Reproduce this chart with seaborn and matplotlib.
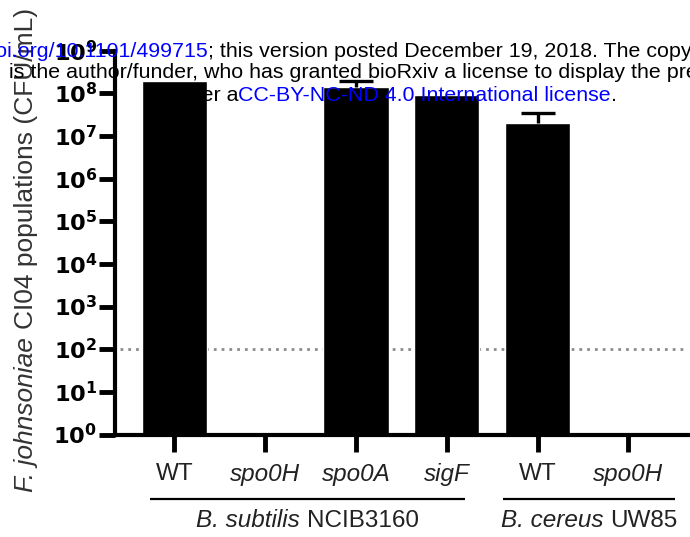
import numpy as np
import pandas as pd
import matplotlib
matplotlib.use("Agg")
import matplotlib.pyplot as plt
import seaborn as sns
from matplotlib.ticker import FixedLocator, NullLocator
from matplotlib.transforms import blended_transform_factory

# ---- data -----------------------------------------------------------------
strains = ["Bs WT", "Bs spo0H", "Bs spo0A", "Bs sigF", "Bc WT", "Bc spo0H"]
tick_labels = ["WT", "spo0H", "spo0A", "sigF", "WT", "spo0H"]
tick_italic = [False, True, True, True, False, True]
cfu_mean = [2.0e8, np.nan, 1.4e8, 9.1e7, 2.05e7, np.nan]   # NaN: below detection
cfu_upper = [np.nan, np.nan, 2.0e8, np.nan, 3.5e7, np.nan]  # mean + SD
detection_limit = 1e2
decades = list(range(0, 10))
group_species = ["B. subtilis", "B. cereus"]
group_strains = ["NCIB3160", "UW85"]
y_label_species = "F. johnsoniae"
y_label_rest = "CI04 populations (CFU/mL)"

header_doi = "https://doi.org/10.1101/499715"
header_line1 = "; this version posted December 19, 2018. The copyright holder for this preprint"
header_line2 = ("is the author/funder, who has granted bioRxiv a license to display "
                "the preprint in perpetuity. It is made available")
header_line3_pre = "under a"
header_license = "CC-BY-NC-ND 4.0 International license"

# ---- style ----------------------------------------------------------------
sns.set_style("ticks")
plt.rcParams["font.family"] = ["Liberation Sans", "DejaVu Sans"]
plt.rcParams["mathtext.fontset"] = "custom"
plt.rcParams["mathtext.rm"] = "Liberation Sans"
plt.rcParams["mathtext.it"] = "Liberation Sans:italic"
plt.rcParams["mathtext.bf"] = "DejaVu Sans:bold"

W, H = 690, 537
fig = plt.figure(figsize=(W / 100, H / 100), dpi=100)
fig.patch.set_facecolor("white")
renderer = fig.canvas.get_renderer()


def text_width(s, **kw):
    t = fig.text(0, 0, s, **kw)
    w = t.get_window_extent(renderer).width
    t.remove()
    return w


def space_width(**kw):
    return text_width("x x", **kw) - text_width("xx", **kw)


ax_left, ax_right, ax_top, ax_bottom = 115.3, 690.0, 50.7, 434.5
ax = fig.add_axes([ax_left / W, 1 - ax_bottom / H,
                   (ax_right - ax_left) / W, (ax_bottom - ax_top) / H])
ax.set_facecolor("white")
ax.set_yscale("log")

df = pd.DataFrame({"strain": strains, "cfu": cfu_mean})
sns.barplot(data=df, x="strain", y="cfu", order=strains, color="black",
            saturation=1, width=0.72, errorbar=None, ax=ax, zorder=2)

# upward-only error bars
idx = np.arange(len(strains))
mean_arr = np.array(cfu_mean)
upper_arr = np.array(cfu_upper)
ok = np.isfinite(mean_arr) & np.isfinite(upper_arr)
eb = ax.errorbar(idx[ok], mean_arr[ok],
                 yerr=[np.zeros(ok.sum()), upper_arr[ok] - mean_arr[ok]],
                 fmt="none", ecolor="black", elinewidth=2.4, capsize=12,
                 capthick=2.4, zorder=3)
eb[1][0].set_visible(False)

# detection limit
ax.axhline(detection_limit, xmin=0.008, xmax=0.988, color="#8c8c8c", lw=2.0,
           linestyle=(0, (1, 1.8)), zorder=0.5)

ax.set_ylim(1, 1e9)
ax.set_xlim(-0.652, 5.68)
ax.yaxis.set_major_locator(FixedLocator([10.0 ** d for d in decades]))
ax.yaxis.set_minor_locator(NullLocator())
ax.set_yticklabels([r"$\mathbf{10^{%d}}$" % d for d in decades])
ax.set_xticks(idx)
ax.set_xticklabels(tick_labels)
for lab, it in zip(ax.get_xticklabels(), tick_italic):
    lab.set_fontstyle("italic" if it else "normal")

for s in ["top", "right"]:
    ax.spines[s].set_visible(False)
for s in ["left", "bottom"]:
    ax.spines[s].set_linewidth(3.0)
    ax.spines[s].set_color("black")

ax.tick_params(axis="y", which="major", length=11.5, width=3.5, pad=1.5,
               labelsize=16.2, colors="black")
ax.tick_params(axis="x", which="major", length=12, width=3.5, pad=8.6,
               labelsize=17.5, labelcolor="#222222", color="black")
ax.set_xlabel("")
ax.set_ylabel("")

# group brackets with "italic species + strain" captions
trans = blended_transform_factory(ax.transData, ax.transAxes)
line_y = (ax_bottom - 499) / (ax_bottom - ax_top)
caption_baseline = H - 527.3
gfs = 17.5
for sp, st, (a, b) in zip(group_species, group_strains, [(-0.27, 3.2), (3.62, 5.52)]):
    ax.plot([a, b], [line_y, line_y], transform=trans, clip_on=False,
            color="black", lw=1.6, solid_capstyle="butt")
    cx = ax.transData.transform(((a + b) / 2, 1))[0]
    w1 = text_width(sp, fontsize=gfs, fontstyle="italic")
    w2 = text_width(st, fontsize=gfs)
    gap = space_width(fontsize=gfs)
    x0 = cx - (w1 + gap + w2) / 2
    fig.text(x0 / W, caption_baseline / H, sp, fontsize=gfs, fontstyle="italic",
             ha="left", va="baseline", color="#222222")
    fig.text((x0 + w1 + gap) / W, caption_baseline / H, st, fontsize=gfs,
             ha="left", va="baseline", color="#222222")

# rotated y-axis title: italic species name followed by plain text
yfs = 19
w1 = text_width(y_label_species, fontsize=yfs, fontstyle="italic")
w2 = text_width(y_label_rest, fontsize=yfs)
gap = space_width(fontsize=yfs)
y_mid = H - 250
y0 = y_mid - (w1 + gap + w2) / 2
base_x = 33
fig.text(base_x / W, y0 / H, y_label_species, rotation=90, rotation_mode="anchor",
         ha="left", va="baseline", fontsize=yfs, fontstyle="italic", color="#333333")
fig.text(base_x / W, (y0 + w1 + gap) / H, y_label_rest, rotation=90,
         rotation_mode="anchor", ha="left", va="baseline", fontsize=yfs,
         color="#333333")

# preprint header
hfs = 15.4
blue = "#0000ff"
fig.text(208 / W, 1 - 57.3 / H, header_doi, ha="right", va="baseline",
         fontsize=hfs, color=blue)
fig.text(208 / W, 1 - 57.3 / H, header_line1, ha="left", va="baseline",
         fontsize=hfs, color="black")
fig.text(9.3 / W, 1 - 78 / H, header_line2, ha="left", va="baseline",
         fontsize=hfs, color="black")
fig.text(238 / W, 1 - 100.7 / H, header_line3_pre, ha="right", va="baseline",
         fontsize=hfs, color="black")
lic = fig.text(238 / W, 1 - 100.7 / H, header_license, ha="left",
               va="baseline", fontsize=hfs, color=blue)
ax.annotate(".", xy=(1, 0), xycoords=lic, ha="left", va="bottom",
            fontsize=hfs, color="black", annotation_clip=False)

fig.savefig("out.png", dpi=100, facecolor="white")
